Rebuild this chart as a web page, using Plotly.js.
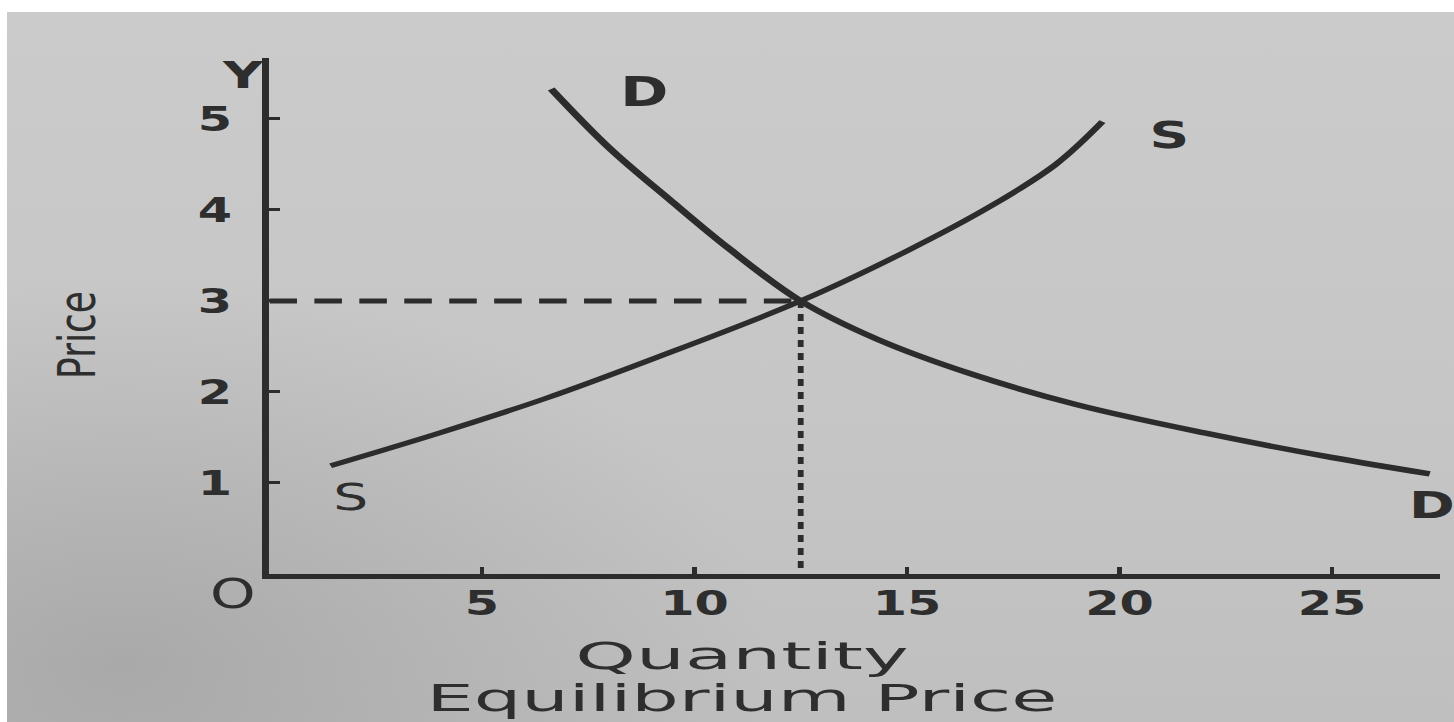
<!DOCTYPE html>
<html>
<head>
<meta charset="utf-8">
<script src="https://cdn.plot.ly/plotly-3.0.1.min.js"></script>
<style>
  html, body { margin: 0; padding: 0; background: #ffffff; overflow: hidden; }
  #sheet {
    position: absolute; left: 7px; top: 12px; width: 1447px; height: 710px; overflow: hidden;
    background:
      radial-gradient(ellipse 45% 55% at 8% 92%, rgba(150,150,150,0.55) 0%, rgba(150,150,150,0) 100%),
      linear-gradient(180deg, #cbcbcb 0%, #c6c6c6 55%, #bfbfbf 100%);
  }
  #chart { width: 998px; height: 710px; transform: scaleX(1.4499); transform-origin: 0 0; }
</style>
</head>
<body>
<div id="sheet"><div id="chart"></div></div>
<script>
// Axis ticks
const quantityTicks = [5, 10, 15, 20, 25];
const quantityTickText = ['5', '10', '15', '20', '25'];
const priceTicks = [1, 2, 3, 4, 5];
const priceTickText = ['1', '2', '3', '4', '5'];

// Demand curve D–D
const demandQty   = [6.63, 8.0, 9.4, 10.8, 12.5, 14.3, 16.5, 19.0, 22.0, 25.0, 27.3];
const demandPrice = [5.33, 4.68, 4.12, 3.58, 3.0, 2.58, 2.2, 1.86, 1.55, 1.28, 1.10];

// Supply curve S–S
const supplyQty   = [1.44, 4.0, 6.5, 9.0, 12.5, 15.0, 17.0, 18.5, 19.6];
const supplyPrice = [1.19, 1.55, 1.93, 2.36, 3.0, 3.55, 4.05, 4.5, 4.97];

// Equilibrium point
const eqQty = 12.5;
const eqPrice = 3;

// Text
const curveLabels = { demand: 'D', supply: 'S' };
const axisLetters = { y: 'Y', origin: 'O' };
const priceTitle = 'Price';
const quantityTitle = 'Quantity';
const caption = 'Equilibrium Price';

const ink = '#2c2c2c';
const textInk = '#2e2e2e';
const sans = 'DejaVu Sans, Verdana, sans-serif';

const traces = [
  { x: [0, eqQty], y: [eqPrice, eqPrice], mode: 'lines',
    line: { color: ink, width: 5, dash: '19px,12px' }, hoverinfo: 'skip' },
  { x: [eqQty, eqQty], y: [eqPrice, 0], mode: 'lines',
    line: { color: ink, width: 4, dash: '7px,6px' }, hoverinfo: 'skip' },
  { x: demandQty, y: demandPrice, mode: 'lines', name: 'Demand',
    line: { color: ink, width: 5.5, shape: 'spline', smoothing: 1 } },
  { x: supplyQty, y: supplyPrice, mode: 'lines', name: 'Supply',
    line: { color: ink, width: 5, shape: 'spline', smoothing: 1 } }
];

const dLast = demandQty.length - 1;
const sLast = supplyQty.length - 1;

const annotations = [
  // curve end labels
  { x: demandQty[0], y: demandPrice[0], text: curveLabels.demand, xshift: 64, yshift: -3,
    font: { family: sans, size: 40, color: textInk, weight: 'bold' } },
  { x: demandQty[dLast], y: demandPrice[dLast], text: curveLabels.demand, xshift: 2, yshift: -31,
    font: { family: sans, size: 38, color: textInk, weight: 'bold' } },
  { x: supplyQty[sLast], y: supplyPrice[sLast], text: curveLabels.supply, xshift: 46, yshift: -13,
    font: { family: sans, size: 38, color: textInk, weight: 'bold' } },
  { x: supplyQty[0], y: supplyPrice[0], text: curveLabels.supply, xshift: 14, yshift: -31,
    font: { family: sans, size: 38, color: textInk } },
  // axis letters
  { xref: 'paper', yref: 'paper', x: 0, y: 1, text: axisLetters.y, xshift: -19, yshift: -17,
    font: { family: sans, size: 38, color: textInk, weight: 'bold' } },
  { xref: 'paper', yref: 'paper', x: 0, y: 0, text: axisLetters.origin, xshift: -26, yshift: -20,
    font: { family: sans, size: 40, color: textInk } },
  // titles
  { xref: 'paper', yref: 'paper', x: -0.165, y: 0.463, text: priceTitle, textangle: -90,
    font: { family: sans, size: 36, color: textInk } },
  { xref: 'paper', yref: 'paper', x: 0.4035, y: -0.159, text: quantityTitle,
    font: { family: sans, size: 37, color: textInk } },
  { xref: 'paper', yref: 'paper', x: 0.4035, y: -0.2422, text: caption,
    font: { family: sans, size: 37, color: textInk } }
].map(a => Object.assign({ showarrow: false, xanchor: 'center', yanchor: 'middle' }, a));

// wide lettering for the two bottom lines (lengths in chart pixels)
const wideText = { 'Quantity': 230, 'Equilibrium Price': 435 };

const layout = {
  width: 998, height: 710,
  margin: { l: 181, r: 10, t: 46, b: 148 },
  paper_bgcolor: 'rgba(0,0,0,0)',
  plot_bgcolor: 'rgba(0,0,0,0)',
  showlegend: false,
  xaxis: {
    range: [0, 27.53], showgrid: false, zeroline: false,
    showline: true, linecolor: ink, linewidth: 5,
    tickmode: 'array', tickvals: quantityTicks, ticktext: quantityTickText,
    ticks: 'inside', ticklen: 7, tickwidth: 3, tickcolor: ink,
    ticklabelstandoff: -5,
    tickfont: { family: sans, size: 34, color: textInk, weight: 'bold' }
  },
  yaxis: {
    range: [0, 5.67], showgrid: false, zeroline: false,
    showline: true, linecolor: ink, linewidth: 5,
    tickmode: 'array', tickvals: priceTicks, ticktext: priceTickText,
    ticks: 'inside', ticklen: 7, tickwidth: 3, tickcolor: ink,
    ticklabelstandoff: 14,
    tickfont: { family: sans, size: 34, color: textInk, weight: 'bold' }
  },
  annotations: annotations
};

Plotly.newPlot('chart', traces, layout, { staticPlot: true, displayModeBar: false }).then(gd => {
  gd.querySelectorAll('.annotation-text').forEach(t => {
    const len = wideText[t.textContent];
    if (len) {
      t.setAttribute('textLength', len);
      t.setAttribute('lengthAdjust', 'spacingAndGlyphs');
    }
  });
});
</script>
</body>
</html>
